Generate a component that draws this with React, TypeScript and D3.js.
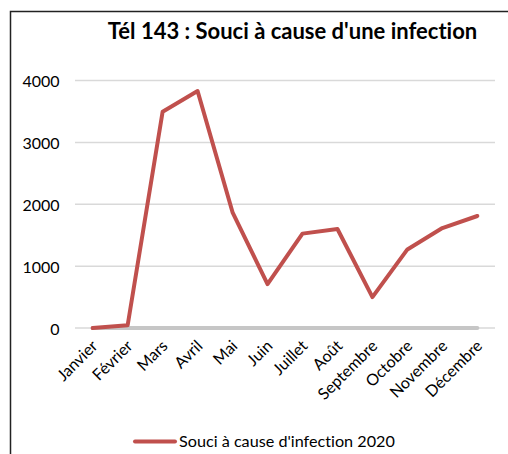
import React from "react";
import * as d3 from "d3";

const months = ["Janvier", "Février", "Mars", "Avril", "Mai", "Juin", "Juillet", "Août", "Septembre", "Octobre", "Novembre", "Décembre"];
const values2020 = [0, 45, 3495, 3830, 1870, 710, 1525, 1600, 500, 1270, 1615, 1810];
const baselineSeries = [0, 0, 0, 0, 0, 0, 0, 0, 0, 0, 0, 0];
const yTicks = [0, 1000, 2000, 3000, 4000];
const title = "Tél 143 : Souci à cause d'une infection";
const legendLabel = "Souci à cause d'infection 2020";

const W = 508;
const H = 454;
const FONT = "Lato, 'Open Sans', sans-serif";

export default function App() {
  const x = d3.scaleBand<string>().domain(months).range([75.2, 494.8]);
  const cx = (m: string) => (x(m) as number) + x.bandwidth() / 2;
  const y = d3.scaleLinear().domain([0, 4000]).range([328, 80.5]);

  const line = d3
    .line<number>()
    .x((_, i) => cx(months[i]))
    .y((d) => y(d));

  const noLig = { fontVariantLigatures: "none" as const };

  return (
    <svg
      width={W}
      height={H}
      style={{ position: "absolute", left: 0, top: 0, background: "#fff" }}
      fontFamily={FONT}
    >
      <rect x={0} y={0} width={W} height={H} fill="#fff" />
      {/* frame */}
      <path d={`M10.5,${H} V11.5 H${W}`} fill="none" stroke="#222" strokeWidth={1.5} />

      {/* title */}
      <text x={292.5} y={39} textAnchor="middle" fontSize={22} fontWeight="bold" fill="#000" style={noLig}>
        {title}
      </text>

      {/* gridlines */}
      {yTicks.map((t) => (
        <line key={t} x1={75} x2={495} y1={y(t)} y2={y(t)} stroke="#d9d9d9" strokeWidth={1.5} />
      ))}

      {/* y labels */}
      {yTicks.map((t) => (
        <text key={t} x={59.5} y={y(t)} textAnchor="end" dominantBaseline="central" fontSize={16} fill="#000">
          {t}
        </text>
      ))}

      {/* x labels */}
      {months.map((m) => (
        <text
          key={m}
          transform={`translate(${cx(m) + 6},${347}) rotate(-45)`}
          textAnchor="end"
          fontSize={16}
          fill="#000"
          style={noLig}
        >
          {m}
        </text>
      ))}

      {/* series */}
      <path d={line(baselineSeries) || ""} fill="none" stroke="#c6c6c6" strokeWidth={4} strokeLinecap="round" strokeLinejoin="round" />
      <path d={line(values2020) || ""} fill="none" stroke="#c0504d" strokeWidth={4} strokeLinecap="round" strokeLinejoin="round" />

      {/* legend */}
      <line x1={135} x2={175} y1={441.5} y2={441.5} stroke="#c0504d" strokeWidth={4} strokeLinecap="round" />
      <text x={179} y={447} fontSize={16.2} fill="#000" style={noLig}>
        {legendLabel}
      </text>
    </svg>
  );
}
